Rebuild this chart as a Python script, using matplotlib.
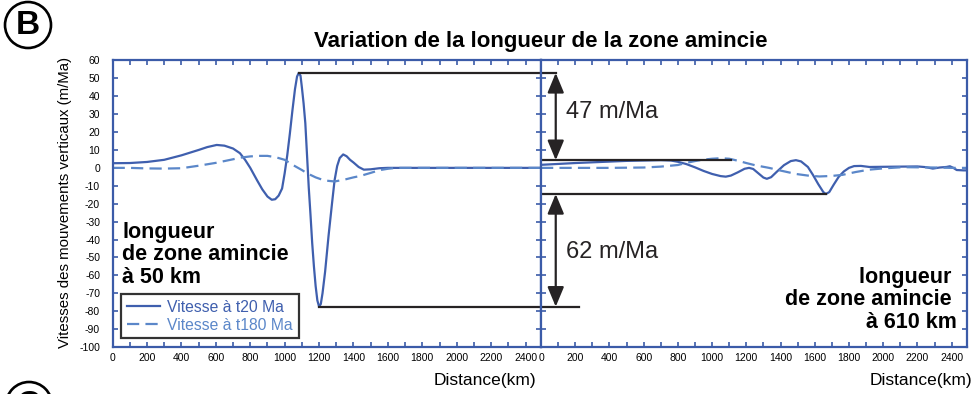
import numpy as np
import matplotlib.pyplot as plt
from matplotlib.patches import Ellipse
from matplotlib.ticker import MultipleLocator
from matplotlib.lines import Line2D

plt.rcParams['font.family'] = ['Liberation Sans', 'DejaVu Sans']
plt.rcParams['axes.unicode_minus'] = False

# --- valeurs (km, m/Ma) ---
# panneau gauche : zone amincie de 50 km
left_km_t20 = [0, 100, 200, 300, 400, 500, 550, 605, 650, 700, 740, 770, 800, 840, 870,
               900, 925, 945, 965, 985, 1000, 1015, 1030, 1045, 1060, 1072, 1082, 1092,
               1100, 1110, 1120, 1130, 1140, 1150, 1160, 1170, 1180, 1190, 1200, 1210,
               1220, 1235, 1255, 1275, 1290, 1305, 1320, 1340, 1360, 1380, 1400, 1430,
               1460, 1500, 1550, 1600, 1800, 2000, 2200, 2490]
left_v_t20 = [2.6, 2.7, 3.3, 4.5, 7.0, 10.0, 11.6, 12.8, 12.4, 10.8, 8.2, 4.5, 0.0, -7.0,
              -12.0, -16.0, -17.8, -17.5, -15.5, -11.5, -3.0, 7.0, 19.0, 32.0, 44.0, 51.0,
              53.0, 51.5, 45.0, 36.0, 25.0, 7.0, -11.0, -26.0, -42.0, -55.0, -66.0, -74.0,
              -77.5, -76.0, -70.0, -58.0, -38.0, -20.0, -7.0, 1.0, 5.5, 7.5, 6.5, 4.5, 3.0,
              0.5, -1.0, -0.8, -0.2, 0.0, 0.0, 0.0, 0.0, 0.0]

left_km_t180 = [0, 100, 200, 300, 400, 450, 500, 550, 600, 650, 700, 750, 800, 850, 900,
                950, 1000, 1050, 1100, 1130, 1180, 1230, 1290, 1350, 1400, 1440, 1500,
                1550, 1600, 1650, 2000, 2490]
left_v_t180 = [0.0, 0.0, -0.3, -0.4, -0.2, 0.5, 1.2, 2.0, 2.8, 3.8, 4.8, 5.8, 6.4, 6.7, 6.7,
               5.9, 4.5, 1.5, -1.2, -3.0, -5.3, -7.0, -7.6, -6.5, -5.3, -4.5, -2.8, -1.3,
               -0.5, 0.0, 0.0, 0.0]

# panneau droit : zone amincie de 610 km
right_km_t20 = [0, 100, 200, 300, 400, 500, 600, 700, 760, 800, 850, 900, 950, 1000, 1050,
                1080, 1110, 1150, 1190, 1216, 1240, 1270, 1300, 1320, 1345, 1380, 1420,
                1460, 1490, 1520, 1560, 1590, 1620, 1650, 1665, 1685, 1710, 1740, 1770,
                1800, 1830, 1870, 1920, 2000, 2100, 2200, 2250, 2290, 2330, 2370, 2390,
                2410, 2430, 2470, 2490]
right_v_t20 = [1.7, 2.2, 2.7, 3.1, 3.5, 3.9, 4.1, 4.3, 4.1, 3.4, 2.1, 0.3, -1.7, -3.4, -4.6,
               -4.9, -4.3, -2.5, -0.5, 0.0, -0.6, -3.0, -5.4, -6.1, -5.2, -2.0, 1.5, 3.8,
               4.3, 3.6, 0.5, -4.0, -9.0, -13.5, -14.6, -13.5, -9.5, -5.0, -2.0, 0.0, 1.0,
               1.1, 0.5, 0.6, 0.7, 0.8, 0.4, -0.4, 0.2, 0.5, 0.9, 0.0, -1.2, -1.4, -1.4]

right_km_t180 = [0, 200, 400, 600, 700, 800, 850, 900, 950, 1000, 1050, 1100, 1150, 1200,
                 1250, 1333, 1400, 1490, 1560, 1626, 1700, 1762, 1840, 1918, 2000, 2114,
                 2200, 2300, 2400, 2490]
right_v_t180 = [0.0, 0.0, 0.0, 0.2, 0.7, 1.6, 2.8, 3.8, 4.6, 5.1, 5.4, 5.1, 4.0, 2.7, 1.5,
                0.0, -1.5, -3.4, -4.3, -4.8, -4.5, -3.9, -2.3, -1.0, -0.3, 0.4, 0.3, 0.2,
                0.0, 0.0]

# niveaux des repères noirs
left_peak = (1082, 53.0)
left_trough = (1200, -77.5)
right_top = 4.3
right_bottom = -14.6

blue_axis = '#3b5ba8'
blue_t20 = '#3f5fae'
blue_t180 = '#5b87c9'
black = '#262324'

fig = plt.figure(figsize=(9.75, 3.94), dpi=100)
axL = fig.add_axes([0.1155, 0.1193, 0.4394, 0.7274])
axR = fig.add_axes([0.5549, 0.1193, 0.4369, 0.7274])

for ax in (axL, axR):
    ax.set_xlim(0, 2490)
    ax.set_ylim(-100, 60)
    for s in ax.spines.values():
        s.set_color(blue_axis)
        s.set_linewidth(1.6)
    ax.xaxis.set_major_locator(MultipleLocator(200))
    ax.xaxis.set_minor_locator(MultipleLocator(100))
    ax.yaxis.set_major_locator(MultipleLocator(10))
    ax.tick_params(which='both', direction='in', length=3.5, width=1.2, color=blue_axis,
                   top=True, right=True, labelsize=7.5, pad=4)
    ax.tick_params(axis='y', pad=9)

axR.tick_params(labelleft=False)

# courbes
axL.plot(left_km_t20, left_v_t20, color=blue_t20, lw=1.6)
axL.plot(left_km_t180, left_v_t180, color=blue_t180, lw=1.6, ls=(0, (5.5, 2.8)))
axR.plot(right_km_t20, right_v_t20, color=blue_t20, lw=1.6)
axR.plot(right_km_t180, right_v_t180, color=blue_t180, lw=1.6, ls=(0, (5.5, 2.8)))

# lignes de repère
axL.plot([left_peak[0], 2490], [left_peak[1]] * 2, color=black, lw=1.6, clip_on=False)
axL.plot([left_trough[0], 2490], [left_trough[1]] * 2, color=black, lw=1.6, clip_on=False)
axR.plot([0, 86], [left_peak[1]] * 2, color=black, lw=1.6)
axR.plot([0, 222], [left_trough[1]] * 2, color=black, lw=1.6)
axR.plot([0, 1109], [right_top] * 2, color=black, lw=1.6)
axR.plot([0, 1665], [right_bottom] * 2, color=black, lw=1.6)

arrow = dict(arrowstyle='<|-|>,head_length=0.6,head_width=0.25', color=black, lw=1.6,
             shrinkA=0, shrinkB=0, mutation_scale=20)
axR.annotate('', xy=(86, left_peak[1]), xytext=(86, right_top), arrowprops=arrow)
axR.annotate('', xy=(86, right_bottom), xytext=(86, left_trough[1]), arrowprops=arrow)

axR.text(146, 31, '47 m/Ma', fontsize=17, va='center', color=black)
axR.text(146, -47, '62 m/Ma', fontsize=17, va='center', color=black)

axL.text(55, -48.6, 'longueur\nde zone amincie\nà 50 km', fontsize=15.5, fontweight='bold',
         va='center', ha='left', linespacing=1.1)
axR.text(2433, -73.7, 'longueur \nde zone amincie \nà 610 km', fontsize=15.5,
         fontweight='bold', va='center', ha='right', multialignment='right', linespacing=1.1)

handles = [Line2D([], [], color=blue_t20, lw=1.6),
           Line2D([], [], color=blue_t180, lw=1.6, ls=(0, (5.5, 2.8)))]
leg = axL.legend(handles, ['Vitesse à t20 Ma', 'Vitesse à t180 Ma'], loc='lower left',
                 bbox_to_anchor=(0.02, 0.03), borderaxespad=0, fontsize=11.3, fancybox=False,
                 handlelength=2.1, handletextpad=0.5, borderpad=0.35, labelspacing=0.2)
leg.get_frame().set_edgecolor('black')
leg.get_frame().set_linewidth(1.6)
for t, c in zip(leg.get_texts(), [blue_t20, blue_t180]):
    t.set_color(c)

# textes de la figure
fig.text(541 / 975, 1 - 41 / 394, 'Variation de la longueur de la zone amincie', fontsize=16,
         fontweight='bold', ha='center', va='center')
fig.text(65 / 975, 1 - 202 / 394, 'Vitesses des mouvements verticaux (m/Ma)', fontsize=10.8,
         rotation=90, ha='center', va='center')
fig.text(536 / 975, 1 - 380 / 394, 'Distance(km)', fontsize=12.5, ha='right', va='center')
fig.text(972 / 975, 1 - 380 / 394, 'Distance(km)', fontsize=12.5, ha='right', va='center')

# lettres cerclées
fig.patches.append(Ellipse((28 / 975, 1 - 25 / 394), 46 / 975, 46 / 394, fill=False,
                           lw=1.9, ec='black', transform=fig.transFigure))
fig.text(28 / 975, 1 - 25 / 394, 'B', fontsize=24, fontweight='bold', ha='center', va='center')
fig.patches.append(Ellipse((29 / 975, 1 - 405 / 394), 46 / 975, 46 / 394, fill=False,
                           lw=1.9, ec='black', transform=fig.transFigure))
fig.text(29 / 975, 1 - 405 / 394, 'C', fontsize=24, fontweight='bold', ha='center', va='center')

plt.savefig('out.png', dpi=100)
